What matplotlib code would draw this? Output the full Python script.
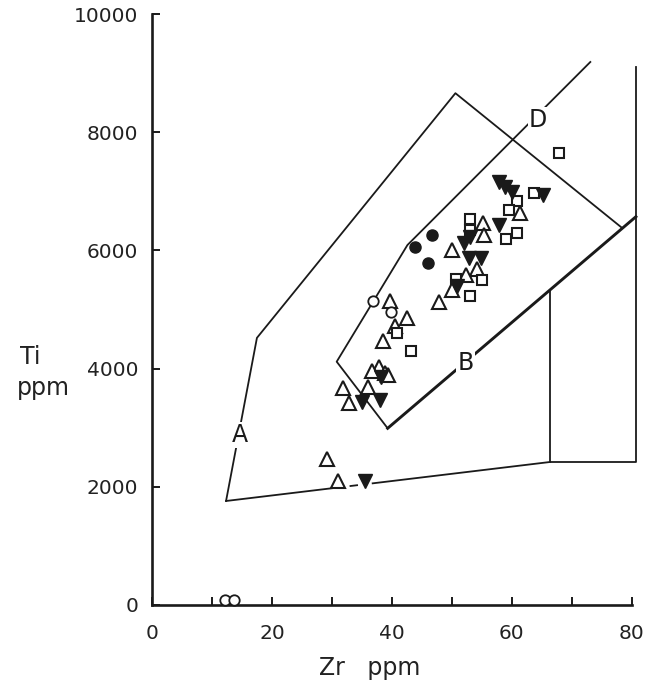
import matplotlib
matplotlib.use("Agg")
import matplotlib.pyplot as plt
import numpy as np

# ---- data (Zr ppm, Ti ppm) ----
tri_open_zr = [39.7, 42.5, 40.6, 38.5, 37.8, 36.7, 38.9, 39.4, 31.8, 36.1, 32.9,
               47.8, 50.0, 55.2, 55.3, 61.4, 54.2, 52.4, 50.0, 29.2, 31.0]
tri_open_ti = [5150, 4850, 4720, 4470, 4030, 3960, 3930, 3890, 3670, 3690, 3410,
               5130, 6000, 6460, 6260, 6630, 5680, 5580, 5330, 2470, 2090]

tri_fill_zr = [57.8, 58.9, 60.0, 65.2, 57.8, 52.0, 53.1, 52.8, 54.8, 50.9, 35.0, 38.1, 38.2, 35.6]
tri_fill_ti = [7160, 7080, 6990, 6940, 6430, 6120, 6220, 5870, 5870, 5390, 3440, 3470, 3860, 2090]

sq_open_zr = [67.8, 63.7, 60.9, 59.6, 53.0, 53.0, 60.8, 59.0, 55.0, 50.7, 53.0, 40.9, 43.2]
sq_open_ti = [7650, 6970, 6840, 6680, 6530, 6350, 6300, 6200, 5500, 5520, 5230, 4600, 4300]

circ_fill_zr = [46.7, 43.9, 46.0]
circ_fill_ti = [6255, 6063, 5792]

circ_open_zr = [36.8, 39.8, 12.2, 13.6]
circ_open_ti = [5150, 4950, 85, 85]

# field boundary vertices
outer_zr = [12.35, 17.5, 50.6, 78.4]
outer_ti = [1760, 4520, 8660, 6380]
bottom_zr = [12.35, 66.4]
bottom_ti = [1760, 2420]
step_zr = [66.4, 66.4, 80.7, 80.7]
step_ti = [5330, 2420, 2420, 9100]
inner_zr = [39.3, 30.8, 42.6, 73.1]
inner_ti = [2990, 4117, 6091, 9188]
b_zr = [39.3, 80.7]
b_ti = [2990, 6570]

field_labels = ["A", "B", "D"]
label_zr = [14.7, 52.3, 64.4]
label_ti = [2880, 4095, 8210]

x_ticks = list(range(0, 81, 10))
x_ticklabels = ["0", "", "20", "", "40", "", "60", "", "80"]
y_ticks = [0, 2000, 4000, 6000, 8000, 10000]
y_ticklabels = ["0", "2000", "4000", "6000", "8000", "10000"]

W, H = 663, 695
fig = plt.figure(figsize=(W / 100, H / 100), dpi=100)
ax = fig.add_axes([152 / W, 1 - 605 / H, 479.7 / W, 591 / H])
ax.set_xlim(0, 80)
ax.set_ylim(0, 10000)

lc = "#1a1a1a"
lw = 1.3
ax.plot(outer_zr, outer_ti, color=lc, lw=lw, clip_on=False, zorder=2)
ax.plot(step_zr, step_ti, color=lc, lw=lw, clip_on=False, zorder=2)
ax.plot(inner_zr, inner_ti, color=lc, lw=lw, clip_on=False, zorder=2)
ax.plot(b_zr, b_ti, color=lc, lw=2.1, clip_on=False, zorder=2)

# bottom boundary with small break/dash near Zr 30-37
def interp_bottom(z):
    return np.interp(z, bottom_zr, bottom_ti)
for z0, z1 in [(12.35, 30.0), (33.1, 34.2), (36.8, 66.4)]:
    zz = np.array([z0, z1])
    ax.plot(zz, interp_bottom(zz), color=lc, lw=lw, clip_on=False, zorder=2)

for t, zx, ty in zip(field_labels, label_zr, label_ti):
    ax.text(zx, ty, t, fontsize=17, ha="center", va="center", color=lc, zorder=3,
            bbox=dict(boxstyle="square,pad=0.05", fc="white", ec="none"))

ax.plot(tri_open_zr, tri_open_ti, linestyle="none", marker="^", ms=10.5, mfc="white",
        mec=lc, mew=1.5, zorder=4, clip_on=False)
ax.plot(sq_open_zr, sq_open_ti, linestyle="none", marker="s", ms=7, mfc="white",
        mec=lc, mew=1.5, zorder=4, clip_on=False)
ax.plot(tri_fill_zr, tri_fill_ti, linestyle="none", marker="v", ms=10, mfc=lc,
        mec=lc, mew=1.0, zorder=5, clip_on=False)
ax.plot(circ_fill_zr, circ_fill_ti, linestyle="none", marker="o", ms=8, mfc=lc,
        mec=lc, zorder=5, clip_on=False)
ax.plot(circ_open_zr, circ_open_ti, linestyle="none", marker="o", ms=7.5, mfc="white",
        mec=lc, mew=1.3, zorder=5, clip_on=False)

for s in ["top", "right"]:
    ax.spines[s].set_visible(False)
for s in ["left", "bottom"]:
    ax.spines[s].set_linewidth(1.9)
    ax.spines[s].set_color(lc)

ax.set_xticks(x_ticks)
ax.set_xticklabels(x_ticklabels)
ax.set_yticks(y_ticks)
ax.set_yticklabels(y_ticklabels)
ax.tick_params(axis="both", direction="in", length=6, width=1.4, colors=lc,
               labelsize=14.5, labelcolor="#222222")
ax.tick_params(axis="x", pad=14)
ax.tick_params(axis="y", pad=10)

fig.text(370 / W, 1 - 668 / H, "Zr   ppm", fontsize=17, ha="center", va="center", color="#222222")
fig.text(30 / W, 1 - 357 / H, "Ti", fontsize=17, ha="center", va="center", color="#222222")
fig.text(43 / W, 1 - 388 / H, "ppm", fontsize=17, ha="center", va="center", color="#222222")

fig.savefig("out.png", dpi=100, facecolor="white")
